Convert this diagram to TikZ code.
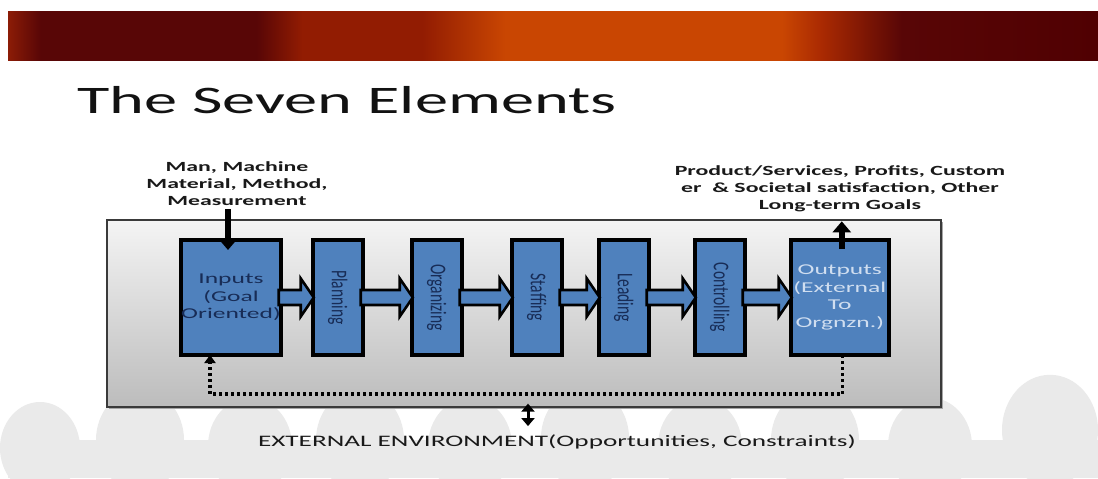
\documentclass[tikz,border=0pt]{standalone}
\usepackage{fontspec}
\setmainfont{Carlito}[FakeStretch=1.7]
\newfontfamily\uprightlabel{Carlito}
\usetikzlibrary{positioning,arrows.meta,calc}
\definecolor{stageblue}{RGB}{79,129,189}
\definecolor{stagetext}{RGB}{24,44,86}
\definecolor{outtext}{RGB}{208,222,240}
\definecolor{panelborder}{RGB}{58,58,58}
\definecolor{paneltop}{RGB}{244,244,244}
\definecolor{panelbottom}{RGB}{188,188,188}
\definecolor{crowd}{RGB}{234,234,234}
\definecolor{bnedge}{RGB}{140,28,6}
\definecolor{bndark}{RGB}{88,6,6}
\definecolor{bnred}{RGB}{146,28,2}
\definecolor{bnorange}{RGB}{201,70,2}
\definecolor{bnrust}{RGB}{170,42,2}
\definecolor{bnend}{RGB}{80,0,2}
\pgfdeclarehorizontalshading{banner}{100bp}{%
  color(0bp)=(bnedge); color(25bp)=(bnedge); color(26.5bp)=(bndark);
  color(36.4bp)=(bndark); color(38.5bp)=(bnred); color(44bp)=(bnred);
  color(47.8bp)=(bnorange); color(60.5bp)=(bnorange); color(62.3bp)=(bnrust);
  color(66bp)=(bndark); color(75bp)=(bnend); color(100bp)=(bnend)}
\tikzset{
  stage/.style     = {draw=black, line width=3.5pt, fill=stageblue, minimum width=50pt, minimum height=115pt,
                      inner sep=0pt, outer sep=0pt, align=center, text=stagetext, font=\fontsize{15}{17.5}\selectfont},
  endstage/.style  = {stage, minimum width=98pt},
  note/.style      = {align=center, inner sep=0pt, text=black!90, font=\bfseries\fontsize{14}{17}\selectfont},
  panel/.style     = {draw=panelborder, line width=1.3pt, top color=paneltop, bottom color=panelbottom,
                      minimum width=834pt, minimum height=187pt, inner sep=0pt,
                      preaction={fill=black!35, transform canvas={shift={(2pt,-2pt)}}}},
  flowarrow/.style = {draw=black, line width=2.6pt, fill=stageblue, line join=miter},
  bigarrow/.style  = {line width=6pt, -{Triangle[length=11pt,width=18pt]}},
  loop/.style      = {line width=3.2pt, dash pattern=on 3pt off 3pt, -{Triangle[length=8pt,width=11pt]}},
  envarrow/.style  = {line width=3pt, {Triangle[length=8pt,width=13pt]}-{Triangle[length=8pt,width=13pt]}},
}
% vertical stage names, read top to bottom
\newcommand{\vtext}[1]{\rotatebox{-90}{\scalebox{1}[1.45]{\uprightlabel\fontsize{15.5}{18}\selectfont #1}}}
\newcommand{\stagearrow}[2]{%
  \draw[flowarrow] let \p1=(#1.east), \p2=(#2.west) in
    (\x1-2pt,\y1+7.5pt) -- (\x2-12pt,\y1+7.5pt) -- (\x2-12pt,\y1+19pt) -- (\x2+1pt,\y1)
    -- (\x2-12pt,\y1-19pt) -- (\x2-12pt,\y1-7.5pt) -- (\x1-2pt,\y1-7.5pt) -- cycle;}

\begin{document}
\begin{tikzpicture}[x=1pt,y=-1pt]
  \fill[white] (0,0) rectangle (1098,479);
  \useasboundingbox (0,0) rectangle (1098,479);
  \fill[crowd] (8,440) rectangle (1098,478);
  \foreach \cx/\cy/\r in {40/448/40,140/440/44,250/446/42,360/440/44,470/446/42,585/438/44,
                          700/446/42,815/440/44,930/446/42,1050/430/48}
    \fill[crowd] (\cx,\cy) ellipse[x radius=\r pt, y radius=1.15*\r pt];
  \shade[shading=banner] (8,11) rectangle (1098,60);
  \node[anchor=base west, inner sep=0pt, text=black!93, font=\fontsize{39}{44}\selectfont] (title) at (77,113) {The Seven Elements};

  \node[panel] (bigbox) at (524,313.5) {};
  \node[endstage] (inputs) at (231,297.5) {Inputs\\(Goal\\Oriented)};
  \node[stage, right=32pt of inputs] (planning) {\vtext{Planning}};
  \node[stage, right=49pt of planning] (organizing) {\vtext{Organizing}};
  \node[stage, right=50pt of organizing] (staffing) {\vtext{Staffing}};
  \node[stage, right=37pt of staffing] (leading) {\vtext{Leading}};
  \node[stage, right=46pt of leading] (controlling) {\vtext{Controlling}};
  \node[endstage, right=46pt of controlling, text=outtext] (outputs) {Outputs\\(External\\To\\Orgnzn.)};

  \stagearrow{inputs}{planning}
  \stagearrow{planning}{organizing}
  \stagearrow{organizing}{staffing}
  \stagearrow{staffing}{leading}
  \stagearrow{leading}{controlling}
  \stagearrow{controlling}{outputs}

  \node[note, anchor=base] (resources) at (237,205) {Man, Machine\\Material, Method,\\Measurement};
  \node[note, anchor=base] (goals) at (840,209) {Product/Services, Profits, Custom\\er~~\& Societal satisfaction, Other\\Long-term Goals};
  \node[anchor=base, inner sep=0pt, text=black!90, font=\fontsize{16}{19}\selectfont] (env) at (557,446) {EXTERNAL ENVIRONMENT(Opportunities, Constraints)};

  \draw[bigarrow] ([xshift=-3pt,yshift=-4pt]inputs.north |- resources.south) -- ([xshift=-3pt,yshift=-10pt]inputs.north);
  \draw[bigarrow] ([xshift=2pt,yshift=-9pt]outputs.north) -- ([xshift=2pt,yshift=-2pt]outputs.north |- bigbox.north);
  \draw[loop] ([xshift=3pt]outputs.south) -- ++(0,39) -| ([xshift=-21pt]inputs.south);
  \draw[envarrow] ([xshift=4pt,yshift=4pt]bigbox.south) -- ([xshift=-29pt,yshift=8pt]env.north);
\end{tikzpicture}
\end{document}
